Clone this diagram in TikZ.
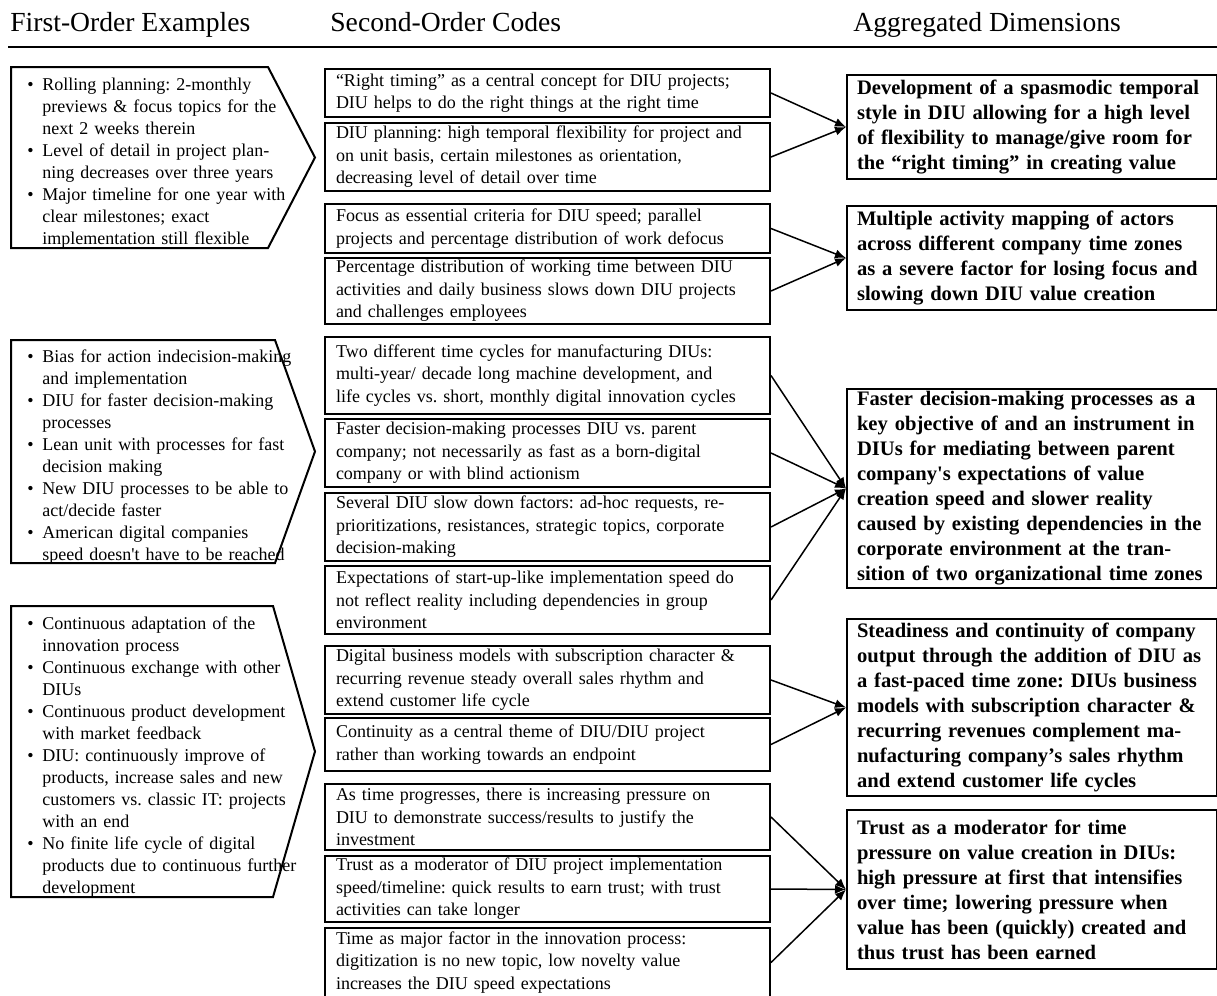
\documentclass[tikz,border=0pt]{standalone}
\usepackage{fontspec}
\setmainfont{Liberation Serif}
\usetikzlibrary{arrows.meta,positioning}
\newcommand{\headfont}{\fontsize{13.8}{16}\selectfont}
\newcommand{\codefont}{\frenchspacing\fontsize{9}{11.25}\selectfont}
\newcommand{\exfont}{\frenchspacing\fontsize{9}{11}\selectfont}
\newcommand{\dimfont}{\frenchspacing\fontsize{10.3}{12.5}\selectfont\bfseries}
\newcommand{\exitem}{\par\noindent\hangindent=7.5pt\hangafter=1\makebox[7.5pt][l]{\textbullet}}

\begin{document}
\begin{tikzpicture}[>={Latex[length=5.5pt,width=4.5pt]}, x=0.5pt, y=-0.5pt]
        \tikzset{head/.style={anchor=base west, inner sep=0pt, font=\headfont},
        exbox/.style={draw, line width=1pt, line join=miter},
        extext/.style={anchor=west, inner sep=0pt, text width=142pt, align=left, font=\exfont},
        code/.style={draw, line width=1pt, anchor=north west, text width=211.5pt, inner xsep=5.5pt, inner ysep=0pt, align=left, font=\codefont},
        dim/.style={draw, line width=1pt, anchor=north west, text width=175pt, inner xsep=5pt, inner ysep=0pt, align=left, font=\dimfont},
        link/.style={line width=0.75pt}
        }
        \useasboundingbox (0,0) rectangle (1217,996);
%% headings
        \node [head] (hfirst) at (10,31) {First-Order Examples};
        \node [head] (hsecond) at (330,31) {Second-Order Codes};
        \node [head] (hagg) at (853,31) {Aggregated Dimensions};
        \draw [line width=1pt] (8,47) -- (1217,47);
%% first-order examples
        \draw [exbox] (11,67) -- (268,67) -- (315,157.5) -- (268,248) -- (11,248) -- cycle;
        \node [extext] (ex1) at (27,158) {\exitem Rolling planning: 2-monthly\newline previews \& focus topics for the\newline next 2 weeks therein
        \exitem Level of detail in project plan-\newline ning decreases over three years
        \exitem Major timeline for one year with\newline clear milestones; exact\newline implementation still flexible\par};
        \draw [exbox] (11,340) -- (275,340) -- (315,451.5) -- (275,563) -- (11,563) -- cycle;
        \node [extext] (ex2) at (27,452) {\exitem Bias for action indecision-making\newline and implementation
        \exitem DIU for faster decision-making\newline processes
        \exitem Lean unit with processes for fast\newline decision making
        \exitem New DIU processes to be able to\newline act/decide faster
        \exitem American digital companies\newline speed doesn\textquotesingle t have to be reached\par};
        \draw [exbox] (11,606) -- (273,606) -- (315,751.5) -- (273,897) -- (11,897) -- cycle;
        \node [extext] (ex3) at (27,752) {\exitem Continuous adaptation of the\newline innovation process
        \exitem Continuous exchange with other\newline DIUs
        \exitem Continuous product development\newline with market feedback
        \exitem DIU: continuously improve of\newline products, increase sales and new\newline customers vs. classic IT: projects\newline with an end
        \exitem No finite life cycle of digital\newline products due to continuous further\newline development\par};
%% second-order codes
        \node [code, minimum height=24pt] (code1) at (324,68) {“Right timing” as a central concept for DIU projects;\\ DIU helps to do the right things at the right time};
        \node [code, minimum height=34pt] (code2) at (324,122) {DIU planning: high temporal flexibility for project and\\ on unit basis, certain milestones as orientation,\\ decreasing level of detail over time};
        \node [code, minimum height=24.5pt] (code3) at (324,203) {Focus as essential criteria for DIU speed; parallel\\ projects and percentage distribution of work defocus};
        \node [code, minimum height=33pt] (code4) at (324,257) {Percentage distribution of working time between DIU\\ activities and daily business slows down DIU projects\\ and challenges employees};
        \node [code, minimum height=38.5pt] (code5) at (324,336) {Two different time cycles for manufacturing DIUs:\\ multi-year/ decade long machine development, and\\ life cycles vs. short, monthly digital innovation cycles};
        \node [code, minimum height=34pt] (code6) at (324,418) {Faster decision-making processes DIU vs. parent\\ company; not necessarily as fast as a born-digital\\ company or with blind actionism};
        \node [code, minimum height=34pt] (code7) at (324,492) {Several DIU slow down factors: ad-hoc requests, re-\\ prioritizations, resistances, strategic topics, corporate\\ decision-making};
        \node [code, minimum height=34pt] (code8) at (324,565) {Expectations of start-up-like implementation speed do\\ not reflect reality including dependencies in group\\ environment};
        \node [code, minimum height=34pt] (code9) at (324,645) {Digital business models with subscription character \&\\ recurring revenue steady overall sales rhythm and\\ extend customer life cycle};
        \node [code, minimum height=26.5pt] (code10) at (324,717) {Continuity as a central theme of DIU/DIU project\\ rather than working towards an endpoint};
        \node [code, minimum height=33pt] (code11) at (324,783) {As time progresses, there is increasing pressure on\\ DIU to demonstrate success/results to justify the\\ investment};
        \node [code, minimum height=33pt] (code12) at (324,855) {Trust as a moderator of DIU project implementation\\ speed/timeline: quick results to earn trust; with trust\\ activities can take longer};
        \node [code, minimum height=34.5pt] (code13) at (324,927) {Time as major factor in the innovation process:\\ digitization is no new topic, low novelty value\\ increases the DIU speed expectations};
%% aggregated dimensions
        \node [dim, minimum height=52pt] (dim1) at (846,74) {Development of a spasmodic temporal\\ style in DIU allowing for a high level\\ of flexibility to manage/give room for\\ the “right timing” in creating value};
        \node [dim, minimum height=52pt] (dim2) at (846,205) {Multiple activity mapping of actors\\ across different company time zones\\ as a severe factor for losing focus and\\ slowing down DIU value creation};
        \node [dim, minimum height=99.5pt] (dim3) at (846,388) {Faster decision-making processes as a\\ key objective of and an instrument in\\ DIUs for mediating between parent\\ company\textquotesingle s expectations of value\\ creation speed and slower reality\\ caused by existing dependencies in the\\ corporate environment at the tran-\\ sition of two organizational time zones};
        \node [dim, minimum height=88.5pt] (dim4) at (846,618) {Steadiness and continuity of company\\ output through the addition of DIU as\\ a fast-paced time zone: DIUs business\\ models with subscription character \&\\ recurring revenues complement ma-\\ nufacturing company’s sales rhythm\\ and extend customer life cycles};
        \node [dim, minimum height=79.5pt] (dim5) at (846,809) {Trust as a moderator for time\\ pressure on value creation in DIUs:\\ high pressure at first that intensifies\\ over time; lowering pressure when\\ value has been (quickly) created and\\ thus trust has been earned};
%% paths
        \path[->,link] (code1.east) edge (dim1.west)
                    (code2.east) edge (dim1.west)
                    (code3.east) edge (dim2.west)
                    (code4.east) edge (dim2.west)
                    (code5.east) edge (dim3.west)
                    (code6.east) edge (dim3.west)
                    (code7.east) edge (dim3.west)
                    (code8.east) edge (dim3.west)
                    (code9.east) edge (dim4.west)
                    (code10.east) edge (dim4.west)
                    (code11.east) edge (dim5.west)
                    (code12.east) edge (dim5.west)
                    (code13.east) edge (dim5.west)
                    ;
    \end{tikzpicture}
\end{document}
